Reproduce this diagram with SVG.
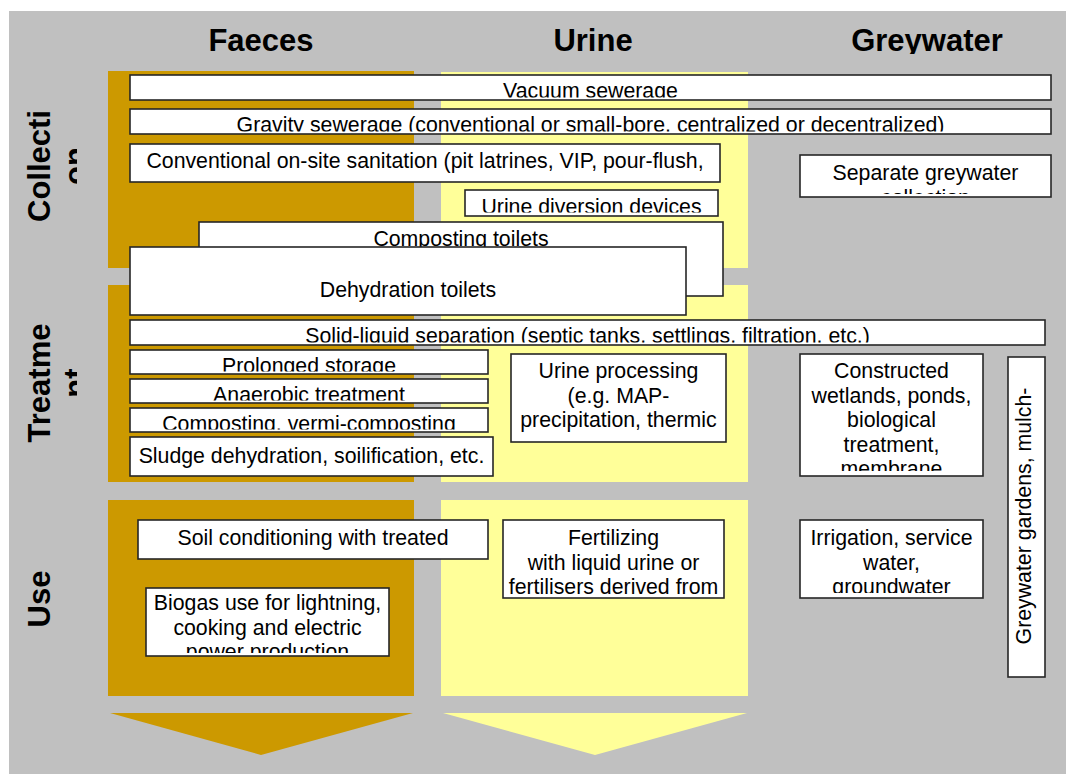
<svg xmlns="http://www.w3.org/2000/svg" width="1066" height="774" viewBox="0 0 1066 774">
  <style>
    .bg { fill: #c0c0c0; }
    .faeces { fill: #cc9900; }
    .urine { fill: #ffff99; }
    .box { fill: #ffffff; stroke: #262626; stroke-width: 1.6; }
    .t { font-family: "Liberation Sans", Arial, sans-serif; font-size: 21.3px; fill: #000; text-anchor: middle; }
    .h { font-family: "Liberation Sans", Arial, sans-serif; font-size: 31px; font-weight: bold; fill: #000; text-anchor: middle; }
  </style>
  <defs>
    <!-- text areas: each label is cut off at the inner edge of its box -->
    <clipPath id="c-head"><rect x="100" y="11" width="960" height="43"/></clipPath>
    <clipPath id="c-lab"><rect x="9" y="60" width="68" height="640"/></clipPath>
    <clipPath id="c-vac"><rect x="131" y="76" width="919" height="21.5"/></clipPath>
    <clipPath id="c-grav"><rect x="131" y="110" width="919" height="21.5"/></clipPath>
    <clipPath id="c-onsite"><rect x="131" y="145" width="588" height="34"/></clipPath>
    <clipPath id="c-sep"><rect x="801" y="156" width="249" height="38"/></clipPath>
    <clipPath id="c-udd"><rect x="466" y="191" width="251" height="21.5"/></clipPath>
    <clipPath id="c-comp"><rect x="200" y="223" width="522" height="70"/></clipPath>
    <clipPath id="c-dehy"><rect x="131" y="248" width="554" height="64"/></clipPath>
    <clipPath id="c-sls"><rect x="131" y="321" width="913" height="21.5"/></clipPath>
    <clipPath id="c-prol"><rect x="131" y="351" width="356" height="20.5"/></clipPath>
    <clipPath id="c-anae"><rect x="131" y="380" width="356" height="20.5"/></clipPath>
    <clipPath id="c-verm"><rect x="131" y="409" width="356" height="20.5"/></clipPath>
    <clipPath id="c-slud"><rect x="131" y="438" width="361" height="35"/></clipPath>
    <clipPath id="c-uproc"><rect x="512" y="355" width="213" height="84"/></clipPath>
    <clipPath id="c-cw"><rect x="801" y="355" width="181" height="116"/></clipPath>
    <clipPath id="c-gard"><rect x="1009" y="358" width="35" height="318"/></clipPath>
    <clipPath id="c-soil"><rect x="139" y="521" width="348" height="35"/></clipPath>
    <clipPath id="c-bio"><rect x="147" y="589" width="241" height="64"/></clipPath>
    <clipPath id="c-fert"><rect x="504" y="521" width="219" height="75"/></clipPath>
    <clipPath id="c-irr"><rect x="801" y="521" width="181" height="72"/></clipPath>
  </defs>

  <!-- backdrop -->
  <rect class="bg" x="9" y="11" width="1057" height="763"/>

  <!-- stream columns, split into collection / treatment / use bands -->
  <g id="columns">
    <rect class="faeces" x="108" y="71" width="306" height="197"/>
    <rect class="faeces" x="108" y="285" width="306" height="197"/>
    <rect class="faeces" x="108" y="500" width="306" height="196"/>
    <rect class="urine" x="441" y="72" width="307" height="196"/>
    <rect class="urine" x="441" y="285" width="307" height="197"/>
    <rect class="urine" x="441" y="500" width="307" height="196"/>
  </g>

  <!-- downward flow arrows under the columns -->
  <g id="arrows">
    <polygon class="faeces" points="110,713 413,713 261,755"/>
    <polygon class="urine" points="443,713 747,713 595,755"/>
  </g>

  <!-- column headings -->
  <g id="headings" clip-path="url(#c-head)">
    <text class="h" x="261" y="51">Faeces</text>
    <text class="h" x="593" y="51">Urine</text>
    <text class="h" x="927" y="51">Greywater</text>
  </g>

  <!-- row labels, written bottom-to-top -->
  <g id="row-labels" clip-path="url(#c-lab)">
    <text class="h" transform="translate(50,166) rotate(-90)"><tspan x="0">Collecti</tspan><tspan x="0" dy="35.6">on</tspan></text>
    <text class="h" transform="translate(50,383) rotate(-90)"><tspan x="0">Treatme</tspan><tspan x="0" dy="35.6">nt</tspan></text>
    <text class="h" transform="translate(50,599) rotate(-90)">Use</text>
  </g>

  <!-- collection -->
  <g id="vacuum-sewerage">
    <rect class="box" x="130" y="75" width="921" height="25"/>
    <text class="t" clip-path="url(#c-vac)" x="590.5" y="98">Vacuum sewerage</text>
  </g>
  <g id="gravity-sewerage">
    <rect class="box" x="130" y="109" width="921" height="25"/>
    <text class="t" clip-path="url(#c-grav)" x="590.5" y="132">Gravity sewerage (conventional or small-bore, centralized or decentralized)</text>
  </g>
  <g id="onsite-sanitation">
    <rect class="box" x="130" y="144" width="590" height="38"/>
    <text class="t" clip-path="url(#c-onsite)" x="425" y="168">Conventional on-site sanitation (pit latrines, VIP, pour-flush,</text>
  </g>
  <g id="greywater-collection">
    <rect class="box" x="800" y="155" width="251" height="42"/>
    <text class="t" clip-path="url(#c-sep)" x="925.5" y="180"><tspan x="925.5">Separate greywater</tspan><tspan x="925.5" dy="24.5">collection</tspan></text>
  </g>
  <g id="urine-diversion">
    <rect class="box" x="465" y="190" width="253" height="26"/>
    <text class="t" clip-path="url(#c-udd)" x="591.5" y="214">Urine diversion devices</text>
  </g>
  <g id="composting-toilets">
    <rect class="box" x="199" y="222" width="524" height="74"/>
    <text class="t" clip-path="url(#c-comp)" x="461" y="246">Composting toilets</text>
  </g>
  <g id="dehydration-toilets">
    <rect class="box" x="130" y="247" width="556" height="68"/>
    <text class="t" clip-path="url(#c-dehy)" x="408" y="297">Dehydration toilets</text>
  </g>

  <!-- treatment -->
  <g id="solid-liquid-separation">
    <rect class="box" x="130" y="320" width="915" height="25"/>
    <text class="t" clip-path="url(#c-sls)" x="587.5" y="343">Solid-liquid separation (septic tanks, settlings, filtration, etc.)</text>
  </g>
  <g id="prolonged-storage">
    <rect class="box" x="130" y="350" width="358" height="24"/>
    <text class="t" clip-path="url(#c-prol)" x="309" y="373">Prolonged storage</text>
  </g>
  <g id="anaerobic-treatment">
    <rect class="box" x="130" y="379" width="358" height="24"/>
    <text class="t" clip-path="url(#c-anae)" x="309" y="402">Anaerobic treatment</text>
  </g>
  <g id="vermi-composting">
    <rect class="box" x="130" y="408" width="358" height="24"/>
    <text class="t" clip-path="url(#c-verm)" x="309" y="431">Composting, vermi-composting</text>
  </g>
  <g id="sludge-dehydration">
    <rect class="box" x="130" y="437" width="363" height="39"/>
    <text class="t" clip-path="url(#c-slud)" x="311.5" y="463">Sludge dehydration, soilification, etc.</text>
  </g>
  <g id="urine-processing">
    <rect class="box" x="511" y="354" width="215" height="88"/>
    <text class="t" clip-path="url(#c-uproc)" x="618.5" y="378"><tspan x="618.5">Urine processing</tspan><tspan x="618.5" dy="24.5">(e.g. MAP-</tspan><tspan x="618.5" dy="24.5">precipitation, thermic</tspan></text>
  </g>
  <g id="constructed-wetlands">
    <rect class="box" x="800" y="354" width="183" height="122"/>
    <text class="t" clip-path="url(#c-cw)" x="891.5" y="378"><tspan x="891.5">Constructed</tspan><tspan x="891.5" dy="24.5">wetlands, ponds,</tspan><tspan x="891.5" dy="24.5">biological</tspan><tspan x="891.5" dy="24.5">treatment,</tspan><tspan x="891.5" dy="24.5">membrane</tspan></text>
  </g>
  <g id="greywater-gardens">
    <rect class="box" x="1008" y="357" width="37" height="320"/>
    <g clip-path="url(#c-gard)">
      <text class="t" transform="translate(1031,516) rotate(-90)" x="0" y="0">Greywater gardens, mulch-</text>
    </g>
  </g>

  <!-- use -->
  <g id="soil-conditioning">
    <rect class="box" x="138" y="520" width="350" height="39"/>
    <text class="t" clip-path="url(#c-soil)" x="313" y="545">Soil conditioning with treated</text>
  </g>
  <g id="biogas-use">
    <rect class="box" x="146" y="588" width="243" height="68"/>
    <text class="t" clip-path="url(#c-bio)" x="267.5" y="610"><tspan x="267.5">Biogas use for lightning,</tspan><tspan x="267.5" dy="24.5">cooking and electric</tspan><tspan x="267.5" dy="24.5">power production</tspan></text>
  </g>
  <g id="fertilizing">
    <rect class="box" x="503" y="520" width="221" height="78"/>
    <text class="t" clip-path="url(#c-fert)" x="613.5" y="545"><tspan x="613.5">Fertilizing</tspan><tspan x="613.5" dy="24.5">with liquid urine or</tspan><tspan x="613.5" dy="24.5">fertilisers derived from</tspan></text>
  </g>
  <g id="irrigation">
    <rect class="box" x="800" y="520" width="183" height="78"/>
    <text class="t" clip-path="url(#c-irr)" x="891.5" y="545"><tspan x="891.5">Irrigation, service</tspan><tspan x="891.5" dy="24.5">water,</tspan><tspan x="891.5" dy="24.5">groundwater</tspan></text>
  </g>
</svg>
